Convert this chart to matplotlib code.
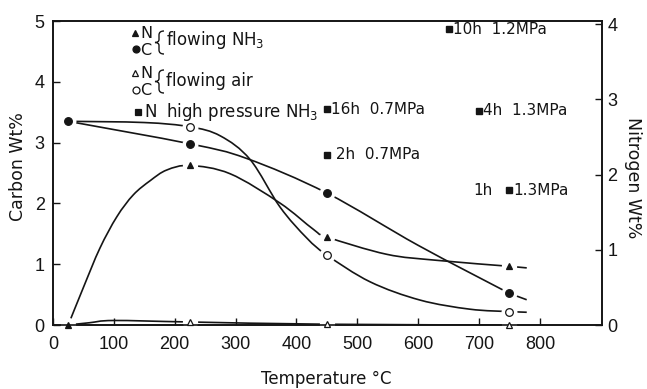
import matplotlib
matplotlib.use("Agg")
import matplotlib.pyplot as plt
import numpy as np
from matplotlib.path import Path
from matplotlib.patches import PathPatch

# ---- measured points (temperature in degC) ----
temp = [25, 225, 450, 750]
carbon_nh3 = [3.35, 2.98, 2.17, 0.52]          # filled circles, left axis
carbon_air = [3.35, 3.26, 1.15, 0.22]          # open circles, left axis (shares 25 degC point)
nitrogen_nh3 = [0.0, 2.12, 1.17, 0.78]         # filled triangles, right axis
nitrogen_air = [0.0, 0.04, 0.01, 0.0]          # open triangles, right axis

# hand-drawn trend curves through the points
c_nh3_curve_t = [25, 225, 318, 450, 600, 750]
c_nh3_curve = [3.35, 2.98, 2.74, 2.17, 1.31, 0.52]
c_air_curve_t = [25, 150, 225, 275, 324, 373, 417, 450, 521, 603, 685, 750]
c_air_curve = [3.35, 3.33, 3.26, 3.11, 2.72, 1.94, 1.43, 1.15, 0.71, 0.41, 0.26, 0.22]
n_nh3_curve_t = [25, 50, 77, 105, 132, 160, 187, 225, 291, 373, 428, 450, 548, 630, 750]
n_nh3_curve = [0.0, 0.50, 1.02, 1.44, 1.73, 1.92, 2.06, 2.12, 2.01, 1.62, 1.27, 1.17, 0.94, 0.86, 0.78]
n_air_curve_t = [25, 60, 100, 225, 450, 750]
n_air_curve = [0.0, 0.03, 0.06, 0.04, 0.01, 0.0]

# short extrapolation strokes past 750 degC
ext_t = [750, 777]
c_nh3_ext = [0.52, 0.42]
c_air_ext = [0.22, 0.21]
n_nh3_ext = [0.78, 0.76]

# high pressure NH3 runs (nitrogen, right axis)
hp_temp = [650, 450, 700, 450, 750]
hp_nitrogen = [3.93, 2.87, 2.85, 2.26, 1.79]
hp_left_text = ["", "", "", "", "1h"]
hp_right_text = ["10h  1.2MPa", "16h  0.7MPa", "4h  1.3MPa", " 2h  0.7MPa", "1.3MPa"]

plt.rcParams["font.family"] = ["DejaVu Sans"]
INK = "#151515"
TICK_FONT = ["Liberation Sans Narrow", "Liberation Sans", "DejaVu Sans"]

W, H = 647, 389
fig = plt.figure(figsize=(W / 100, H / 100), dpi=100)
ax = fig.add_axes([53 / W, 1 - 325 / H, 549 / W, 304 / H])
ax2 = ax.twinx()


def smooth_path(xs, ys):
    """Catmull-Rom curve through the given points as cubic Bezier segments."""
    pts = np.column_stack([xs, ys]).astype(float)
    n = len(pts)
    verts, codes = [pts[0]], [Path.MOVETO]
    for i in range(n - 1):
        p0 = pts[i - 1] if i > 0 else pts[i]
        p1, p2 = pts[i], pts[i + 1]
        p3 = pts[i + 2] if i + 2 < n else pts[i + 1]
        verts += [p1 + (p2 - p0) / 6, p2 - (p3 - p1) / 6, p2]
        codes += [Path.CURVE4] * 3
    return Path(verts, codes)


def curve(axis, xs, ys):
    axis.add_patch(PathPatch(smooth_path(xs, ys), fill=False, lw=1.2,
                             edgecolor=INK, zorder=2, capstyle="round"))


def points(axis, xs, ys, marker, filled, size):
    # white halo leaves the small gap where lines meet a point
    axis.plot(xs, ys, ls="none", marker="o", ms=size + 6, mfc="white",
              mec="none", zorder=2.2, clip_on=False)
    axis.plot(xs, ys, ls="none", marker=marker, ms=size,
              mfc=INK if filled else "white", mec=INK, mew=0.9,
              zorder=3, clip_on=False)


# carbon on the left axis
curve(ax, c_nh3_curve_t, c_nh3_curve)
curve(ax, c_air_curve_t, c_air_curve)
ax.plot(ext_t, c_nh3_ext, color=INK, lw=1.2, zorder=2)
ax.plot(ext_t, c_air_ext, color=INK, lw=1.2, zorder=2)
points(ax, temp, carbon_nh3, "o", True, 5.5)
points(ax, temp[1:], carbon_air[1:], "o", False, 5.5)

# nitrogen on the right axis
curve(ax2, n_nh3_curve_t, n_nh3_curve)
curve(ax2, n_air_curve_t, n_air_curve)
ax2.plot(ext_t, n_nh3_ext, color=INK, lw=1.2, zorder=2)
points(ax2, temp, nitrogen_nh3, "^", True, 5)
points(ax2, temp[1:], nitrogen_air[1:], "^", False, 5)
ax2.plot(hp_temp, hp_nitrogen, ls="none", marker="s", ms=4, color=INK, zorder=3)
for t, n, lt, rt in zip(hp_temp, hp_nitrogen, hp_left_text, hp_right_text):
    ax2.annotate(rt, (t, n), xytext=(3, 0), textcoords="offset points",
                 va="center", ha="left", fontsize=11, color=INK)
    if lt:
        ax2.annotate(lt, (t, n), xytext=(-12, 0), textcoords="offset points",
                     va="center", ha="right", fontsize=11, color=INK)

# axes
ax.set_xlim(0, 902)
ax.set_ylim(0, 5)
ax2.set_ylim(0, 4.04)
ax.set_xticks(range(0, 801, 100))
ax.set_yticks(range(0, 6))
ax2.set_yticks(range(0, 5))
for a in (ax, ax2):
    for s in a.spines.values():
        s.set_linewidth(1.2)
        s.set_color(INK)
ax.tick_params(axis="both", direction="in", length=5, width=1.0, color=INK,
               labelsize=13, labelcolor=INK)
ax.tick_params(axis="x", pad=8)
ax.tick_params(axis="y", pad=6)
ax2.tick_params(axis="y", direction="in", length=5, width=1.0, color=INK,
                labelsize=13, labelcolor=INK, pad=4)
for lab in ax.get_xticklabels() + ax.get_yticklabels() + ax2.get_yticklabels():
    lab.set_family(TICK_FONT)

fig.text(326 / W, 1 - 379 / H, "Temperature °C", ha="center", va="center",
         fontsize=12, color=INK)
fig.text(18 / W, 1 - 167 / H, "Carbon Wt%", ha="center", va="center",
         rotation=90, fontsize=12.5, color=INK)
fig.text(633 / W, 1 - 178 / H, "Nitrogen Wt%", ha="center", va="center",
         rotation=-90, fontsize=12.5, color=INK)


# key in the upper left, placed in pixel terms of the axes box
def at(px, py):
    return (px - 53) / 549, (325 - py) / 304


def key_mark(px, py, marker, filled, size):
    ax.plot(*at(px, py), transform=ax.transAxes, marker=marker, ms=size,
            mfc=INK if filled else "white", mec=INK, mew=0.9, ls="none",
            clip_on=False, zorder=4)


def key_text(px, py, s, size=12):
    ax.text(*at(px, py), s, transform=ax.transAxes, ha="left", va="center",
            fontsize=size, color=INK)


def key_brace(px, top, bottom):
    # thin curly brace: arms on the right, point on the left
    mid = (top + bottom) / 2
    arm, tip = px + 9, px
    stem = px + 4
    pts = [(arm, top), (stem, top), (stem, top + 4), (stem, mid - 3),
           (stem, mid), (tip, mid), (stem, mid), (stem, mid + 3),
           (stem, bottom - 4), (stem, bottom), (arm, bottom)]
    codes = [Path.MOVETO, Path.CURVE3, Path.CURVE3, Path.LINETO,
             Path.CURVE3, Path.CURVE3, Path.CURVE3, Path.CURVE3,
             Path.LINETO, Path.CURVE3, Path.CURVE3]
    verts = [at(x, y) for x, y in pts]
    ax.add_patch(PathPatch(Path(verts, codes), fill=False, lw=1.0,
                           edgecolor=INK, transform=ax.transAxes,
                           clip_on=False, zorder=4))


key_mark(135, 33, "^", True, 4.5)
key_text(140, 33, "N", 11.5)
key_mark(136, 49, "o", True, 5)
key_text(140, 50, "C", 11.5)
key_brace(155, 31, 54)
key_text(166, 40, "flowing NH$_3$")

key_mark(135, 73, "^", False, 4.5)
key_text(140, 73, "N", 11.5)
key_mark(136, 90, "o", False, 5)
key_text(140, 90, "C", 11.5)
key_brace(155, 70, 93)
key_text(166, 81, "flowing air")

key_mark(138, 112, "s", True, 4)
key_text(144, 112, "N")
key_text(166, 112, "high pressure NH$_3$")

fig.savefig("out.png", dpi=100, facecolor="white")
